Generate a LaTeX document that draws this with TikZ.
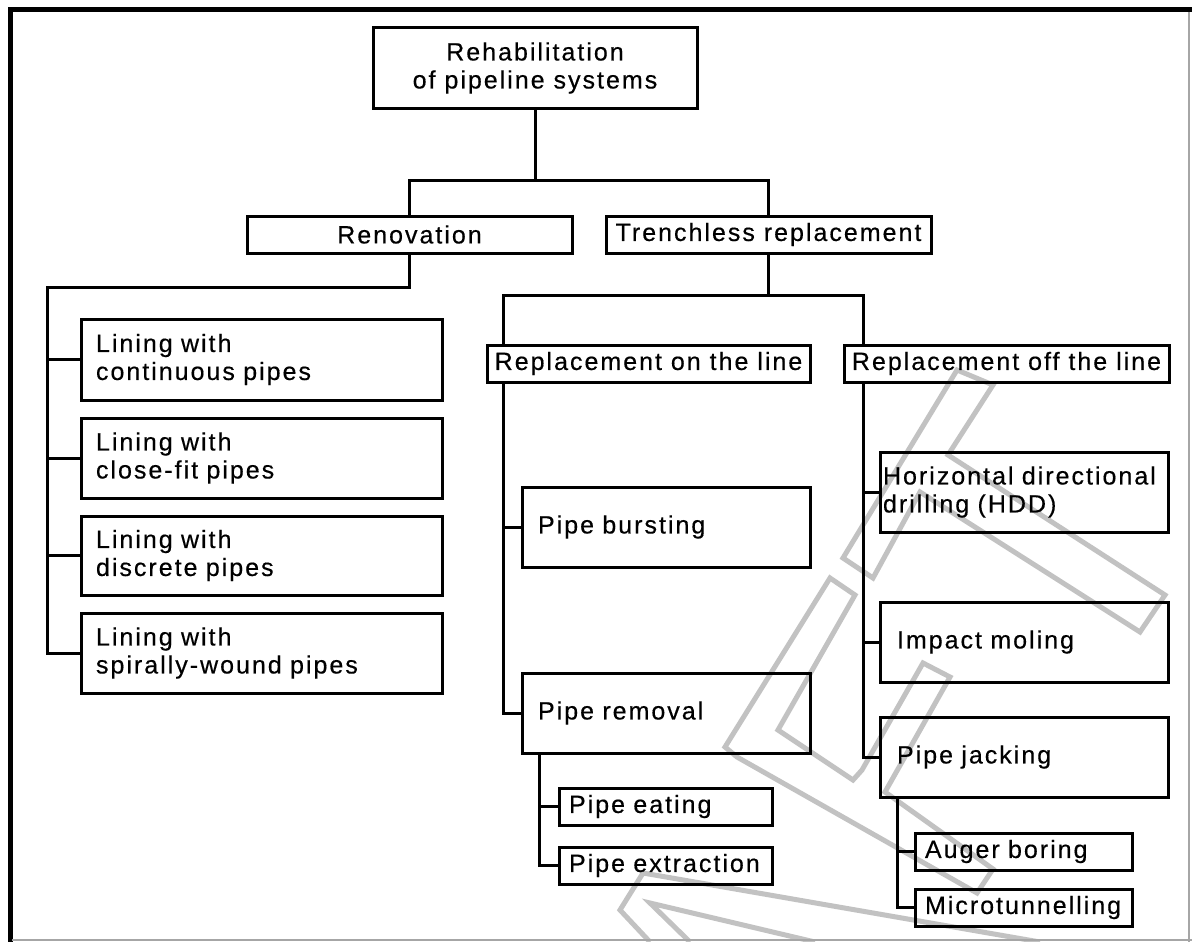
\documentclass[tikz,border=0pt]{standalone}
\usepackage{fontspec}
\setmainfont{Liberation Sans}[LetterSpace=8, FakeBold=0.4]
\begin{document}
\begin{tikzpicture}[x=1pt,y=-1pt,
  font=\fontsize{25}{28}\selectfont,
  box/.style={draw, line width=3pt, rectangle, outer sep=0pt, inner ysep=0pt, anchor=north west},
  cbox/.style={box, align=center},
  lbox/.style={box, align=left},
  conn/.style={line width=3pt, line join=miter},
  wm/.style={draw=black!24, line width=5pt, line join=miter}]
\useasboundingbox (0,0) rectangle (1192,942);
\fill[white] (0,0) rectangle (1192,942);

% watermark
\draw[wm] (957,370) -- (993,385) -- (948,455) -- (1165,595) -- (1140,632) -- (920,492) -- (873,578) -- (843,558) -- cycle;
\draw[wm] (830,578) -- (855,595) -- (778,730) -- (853,780) -- (862,770) -- (923,663) -- (950,677) -- (885,792) -- (993,869) -- (977,893) -- (737,757) -- (725,747) -- cycle;
\draw[wm] (1040,942) -- (643,873) -- (620,910) -- (650,942);
\draw[wm] (815,942) -- (650,903) -- (690,942);

% frame
\draw[line width=5pt] (8,10) -- (1192,10);
\draw[line width=5pt] (10.5,8) -- (10.5,942);
\draw[black!35, line width=1.5pt] (1189,12) -- (1189,942);
\draw[black!35, line width=1.5pt] (12,940) -- (1192,940);

% nodes
\node[cbox, minimum width=324, minimum height=80] (root) at (373,28) {Rehabilitation\\of pipeline systems};
\node[cbox, minimum width=325, minimum height=37] (ren) at (247,216) {Renovation};
\node[cbox, minimum width=325, minimum height=37] (tr) at (606,216) {Trenchless replacement};

\node[lbox, minimum width=361, minimum height=81, text width=331, inner xsep=15] (l1) at (81,319) {Lining with\\continuous pipes};
\node[lbox, minimum width=361, minimum height=80, text width=331, inner xsep=15] (l2) at (81,418) {Lining with\\close-fit pipes};
\node[lbox, minimum width=361, minimum height=79, text width=331, inner xsep=15] (l3) at (81,516) {Lining with\\discrete pipes};
\node[lbox, minimum width=361, minimum height=80, text width=331, inner xsep=15] (l4) at (81,613) {Lining with\\spirally-wound pipes};

\node[cbox, minimum width=323, minimum height=37] (on) at (487,345) {Replacement on the line};
\node[cbox, minimum width=325, minimum height=37] (off) at (844,345) {Replacement off the line};

\node[lbox, minimum width=288, minimum height=80, text width=256, inner xsep=16] (pb) at (522,487) {Pipe bursting};
\node[lbox, minimum width=288, minimum height=80, text width=256, inner xsep=16] (pr) at (522,673) {Pipe removal};
\node[lbox, minimum width=213, minimum height=37, text width=193, inner xsep=10] (pe) at (559,788) {Pipe eating};
\node[lbox, minimum width=213, minimum height=37, text width=193, inner xsep=10] (px) at (559,847) {Pipe extraction};

\node[lbox, minimum width=288, minimum height=80, text width=282, inner xsep=3] (hdd) at (880,452) {Horizontal directional\\drilling (HDD)};
\node[lbox, minimum width=288, minimum height=80, text width=254, inner xsep=17] (im) at (880,602) {Impact moling};
\node[lbox, minimum width=288, minimum height=80, text width=254, inner xsep=17] (pj) at (880,717) {Pipe jacking};
\node[lbox, minimum width=217, minimum height=37, text width=197, inner xsep=10] (ab) at (915,833) {Auger boring};
\node[lbox, minimum width=217, minimum height=37, text width=197, inner xsep=10] (mt) at (915,889) {Microtunnelling};

% junction coordinates
\coordinate (j1) at (535,180);
\coordinate (rv) at (47,287);
\coordinate (j2) at (769,295);
\coordinate (onv) at (503,295);
\coordinate (offv) at (863,295);
\coordinate (prv) at (539,753);
\coordinate (pjv) at (897,797);

% connectors
\draw[conn] (root.south) -- (j1);
\draw[conn] (ren.north) |- (j1) -| (tr.north);
\draw[conn] (ren.south) |- (rv) |- (l4.west);
\draw[conn] (l1.west) -- (l1.west -| rv);
\draw[conn] (l2.west) -- (l2.west -| rv);
\draw[conn] (l3.west) -- (l3.west -| rv);

\draw[conn] (tr.south) -- (tr.south |- j2);
\draw[conn] (onv |- on.north) |- (j2) -| (offv |- off.north);
\draw[conn] (onv |- on.south) |- (pr.west);
\draw[conn] (pb.west) -- (pb.west -| onv);
\draw[conn] (offv |- off.south) |- (pj.west);
\draw[conn] (hdd.west) -- (hdd.west -| offv);
\draw[conn] (im.west) -- (im.west -| offv);

\draw[conn] (prv |- pr.south) |- (px.west);
\draw[conn] (pe.west) -- (pe.west -| prv);
\draw[conn] (pjv |- pj.south) |- (mt.west);
\draw[conn] (ab.west) -- (ab.west -| pjv);
\end{tikzpicture}
\end{document}
